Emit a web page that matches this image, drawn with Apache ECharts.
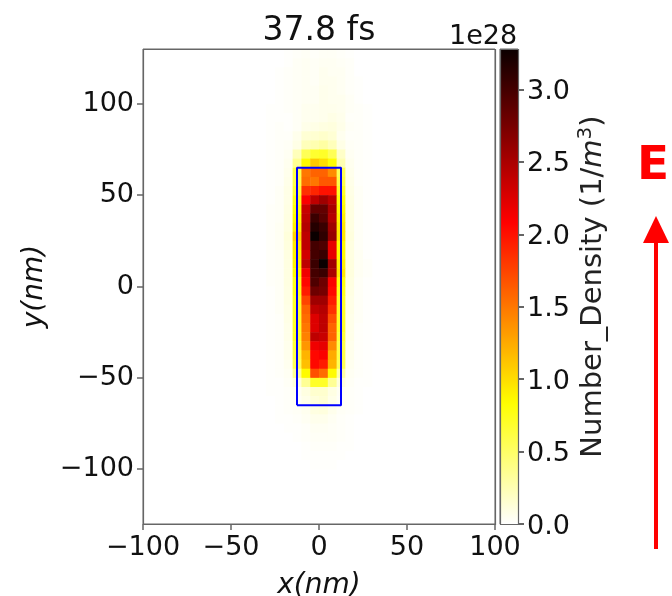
<!DOCTYPE html>
<html><head><meta charset="utf-8">
<style>html,body{margin:0;padding:0;background:#fff}#c{width:672px;height:596px}</style>
<script src="https://cdn.jsdelivr.net/npm/echarts@6/dist/echarts.min.js"></script>
</head><body><div id="c"></div>
<script>
// cell lower-left corners in nm; each cell is 5 nm square
const xEdges = [-30,-25,-20,-15,-10,-5,0,5,10,15,20,25];
const yEdges = [125,120,115,110,105,100,95,90,85,80,75,70,65,60,55,50,45,40,35,30,25,20,15,10,5,0,-5,-10,-15,-20,-25,-30,-35,-40,-45,-50,-55,-60,-65,-70,-75,-80,-85,-90,-95,-100];
// Number density in 1e28 / m^3, one row per yEdges entry
const density = [
[0,0,.01,.02,.03,.02,.03,.03,.02,.01,0,0],
[0,0,.01,.03,.04,.03,.04,.04,.03,.02,0,0],
[0,.01,.02,.03,.04,.03,.05,.04,.04,.02,0,0],
[0,.01,.02,.03,.04,.03,.05,.05,.04,.02,.01,0],
[0,.01,.02,.03,.04,.04,.06,.05,.04,.02,.01,0],
[0,.01,.02,.03,.04,.04,.06,.05,.05,.03,.01,0],
[.01,.01,.02,.03,.05,.05,.06,.06,.05,.03,.02,.01],
[.01,.01,.01,.03,.05,.05,.06,.08,.06,.02,.02,.01],
[.01,.02,.01,.03,.07,.08,.1,.11,.07,.03,.02,.01],
[.01,.02,.02,.06,.14,.15,.17,.14,.05,.02,.02,.01],
[.01,.02,.03,.08,.22,.26,.3,.22,.08,.03,.02,.01],
[.01,.02,.04,.22,.55,.68,.7,.55,.18,.04,.02,.01],
[.01,.02,.05,.35,.85,1.1,1.0,.83,.25,.05,.02,.01],
[.01,.02,.06,.6,1.5,1.6,1.6,1.4,.55,.06,.02,.01],
[.01,.02,.07,.6,1.55,1.5,1.65,1.65,.6,.07,.02,.01],
[.01,.03,.08,.65,1.85,1.9,2.0,2.0,.7,.08,.03,.01],
[.01,.03,.08,.75,2.1,2.4,2.55,2.4,.8,.09,.03,.01],
[.02,.03,.09,.8,2.35,2.85,2.85,2.5,.85,.1,.03,.01],
[.02,.03,.1,.85,2.4,3.05,2.9,2.45,.9,.1,.03,.01],
[.02,.04,.1,.9,2.45,3.15,3.05,2.55,.95,.1,.03,.01],
[.02,.04,.12,1.05,2.4,3.28,3.1,2.6,.95,.11,.03,.01],
[.02,.04,.11,.95,2.4,3.0,2.95,2.2,.85,.1,.03,.01],
[.02,.03,.1,.9,2.3,3.0,3.05,2.2,.85,.1,.04,.01],
[.02,.03,.1,.9,2.4,3.05,3.28,2.55,.9,.11,.04,.02],
[.02,.03,.1,.85,2.15,3.0,3.05,2.5,.95,.11,.04,.02],
[.02,.03,.1,.75,2.05,2.95,2.8,2.1,.8,.1,.03,.01],
[.01,.03,.09,.75,1.95,2.8,2.75,2.05,.75,.09,.03,.01],
[.01,.03,.09,.7,1.75,2.55,2.55,1.95,.7,.08,.03,.01],
[.01,.03,.08,.7,1.6,2.4,2.45,1.85,.7,.08,.03,.01],
[.01,.02,.08,.7,1.55,2.25,2.4,1.7,.7,.07,.03,.01],
[.01,.02,.07,.7,1.5,2.25,2.4,1.6,.7,.07,.02,.01],
[.01,.02,.07,.7,1.45,2.4,2.35,1.6,.65,.07,.02,.01],
[.01,.02,.06,.65,1.35,2.15,2.2,1.4,.6,.06,.02,.01],
[.01,.02,.06,.6,1.2,2.05,2.1,1.25,.6,.06,.02,.01],
[.01,.02,.05,.55,1.15,2.05,1.95,1.2,.55,.05,.02,.01],
[.01,.02,.04,.35,.85,1.7,1.55,.85,.3,.04,.02,.01],
[.01,.01,.03,.12,.35,.7,.7,.35,.12,.03,.01,.01],
[.01,.01,.02,.04,.1,.16,.16,.09,.04,.02,.01,0],
[0,.01,.02,.03,.07,.12,.14,.07,.03,.02,.01,0],
[0,.01,.02,.03,.05,.1,.11,.06,.03,.02,.01,0],
[0,.01,.01,.02,.04,.06,.06,.04,.02,.01,0,0],
[0,0,.01,.01,.02,.04,.04,.03,.02,.01,0,0],
[0,0,0,.01,.02,.03,.03,.03,.02,.01,0,0],
[0,0,0,0,.01,.02,.02,.02,.01,.01,0,0],
[0,0,0,0,.01,.01,.01,.01,.01,0,0,0],
[0,0,0,0,0,.01,.01,.01,0,0,0,0]
];
const cellSize = 5;
const colorMax = 3.28;
const xTicks = [-100,-50,0,50,100];
const yTicks = [-100,-50,0,50,100];
const cbarTicks = [0,0.5,1,1.5,2,2.5,3];
const rectX = [-12.5,12.5,12.5,-12.5,-12.5];
const rectY = [-65,-65,65,65,-65];

const cells = [];
yEdges.forEach((y,r)=>xEdges.forEach((x,c)=>cells.push([x,y,density[r][c]])));

// matplotlib hot_r
const hotR = t=>{
  const u=1-t;
  const r=Math.min(1,0.0416+u/0.365*(1-0.0416));
  const g=Math.max(0,Math.min(1,(u-0.365)/(0.746-0.365)));
  const b=Math.max(0,Math.min(1,(u-0.746)/(1-0.746)));
  return `rgb(${Math.round(r*255)},${Math.round(g*255)},${Math.round(b*255)})`;
};
const ramp=[];for(let i=0;i<=128;i++)ramp.push(hotR(i/128));
const minusFmt = v=>String(v).replace('-','\u2212');
const font='"DejaVu Sans"', tickSize=27, nameSize=28, cbarNameSize=29, ink='#111';
const gray='#666';

const chart = echarts.init(document.getElementById('c'),null,{renderer:'canvas'});
chart.setOption({
  animation:false,
  backgroundColor:'#fff',
  title:{text:'37.8 fs',left:314,top:10,textAlign:'center',textStyle:{fontFamily:font,fontSize:33,fontWeight:'normal',color:ink}},
  grid:[
    {left:143,top:49,width:352,height:475,outerBoundsMode:'none',show:true,borderColor:gray,borderWidth:1,backgroundColor:'#fff'},
    {left:500,top:49,width:18,height:475,outerBoundsMode:'none',show:true,borderColor:gray,borderWidth:1,backgroundColor:'#fff'}
  ],
  xAxis:[
    {type:'value',gridIndex:0,min:-100,max:100,interval:50,splitLine:{show:false},axisLine:{show:false,onZero:false},
     axisTick:{show:true,length:6,lineStyle:{color:gray,width:1.5},customValues:xTicks},
     axisLabel:{fontFamily:font,fontSize:tickSize,color:ink,margin:10,formatter:minusFmt,customValues:xTicks,hideOverlap:false},
     name:'x(nm)',nameLocation:'middle',nameGap:48,nameTextStyle:{fontFamily:font,fontSize:nameSize,fontStyle:'italic',color:ink}},
    {type:'category',gridIndex:1,data:['cb'],show:false}
  ],
  yAxis:[
    {type:'value',gridIndex:0,min:-130,max:130,splitLine:{show:false},axisLine:{show:false,onZero:false},
     axisTick:{show:true,length:6,lineStyle:{color:gray,width:1.5},customValues:yTicks},
     axisLabel:{fontFamily:font,fontSize:tickSize,color:ink,margin:9,formatter:minusFmt,customValues:yTicks,hideOverlap:false},
     name:'y(nm)',nameLocation:'middle',nameGap:92,nameRotate:90,nameTextStyle:{fontFamily:font,fontSize:nameSize,fontStyle:'italic',color:ink}},
    {type:'value',gridIndex:1,position:'right',min:0,max:colorMax,splitLine:{show:false},axisLine:{show:false,onZero:false},
     axisTick:{show:true,length:6,lineStyle:{color:'#333',width:1.5},customValues:cbarTicks},
     axisLabel:{fontFamily:font,fontSize:tickSize,color:ink,margin:9,formatter:v=>'{t|'+v.toFixed(1)+'}',customValues:cbarTicks,hideOverlap:false,
       rich:{t:{fontFamily:font,fontSize:tickSize,color:ink,padding:[5,0,0,0]}}},
     name:'Number_Density (1/{m|m}{s|3})',nameLocation:'middle',nameGap:58,nameRotate:90,
     nameTextStyle:{fontFamily:font,fontSize:cbarNameSize,color:'#222',rich:{m:{fontFamily:font,fontSize:cbarNameSize,fontStyle:'italic',color:'#222'},s:{fontFamily:font,fontSize:20,color:'#222',padding:[0,0,15,0]}}}}
  ],
  visualMap:{show:false,seriesIndex:0,dimension:2,min:0,max:colorMax,inRange:{color:ramp}},
  series:[
    {type:'custom',xAxisIndex:0,yAxisIndex:0,coordinateSystem:'cartesian2d',encode:{x:0,y:1},data:cells,silent:true,
     renderItem:(p,api)=>{
       const a=api.coord([api.value(0),api.value(1)+cellSize]);
       const b=api.coord([api.value(0)+cellSize,api.value(1)]);
       return {type:'rect',shape:{x:a[0],y:a[1],width:b[0]-a[0]+0.5,height:b[1]-a[1]+0.5},style:{fill:api.visual('color')}};
     }},
    {type:'line',xAxisIndex:0,yAxisIndex:0,data:rectX.map((x,i)=>[x,rectY[i]]),symbol:'none',lineStyle:{color:'#0000ff',width:2},z:5,silent:true},
    {type:'bar',xAxisIndex:1,yAxisIndex:1,data:[colorMax],barWidth:'100%',silent:true,
     itemStyle:{color:{type:'linear',x:0,y:1,x2:0,y2:0,colorStops:ramp.map((c,i)=>({offset:i/128,color:c}))}}}
  ],
  graphic:[
    {type:'rect',z:10,shape:{x:143.5,y:49.5,width:352,height:475},style:{fill:'none',stroke:gray,lineWidth:1.2}},
    {type:'rect',z:10,shape:{x:500.5,y:49.5,width:18,height:475},style:{fill:'none',stroke:gray,lineWidth:1.2}},
    {type:'text',left:449,top:23,style:{text:'1e28',fontFamily:font,fontSize:27,fill:ink}},
    {type:'text',left:637,top:143,style:{text:'E',fontFamily:font,fontSize:47,fontWeight:'bold',fill:'#ff0000'}},
    {type:'line',shape:{x1:656,y1:549,x2:656,y2:240},style:{stroke:'#ff0000',lineWidth:4}},
    {type:'polygon',shape:{points:[[656,216],[669,243],[643,243]]},style:{fill:'#ff0000'}}
  ]
});
</script></body></html>
